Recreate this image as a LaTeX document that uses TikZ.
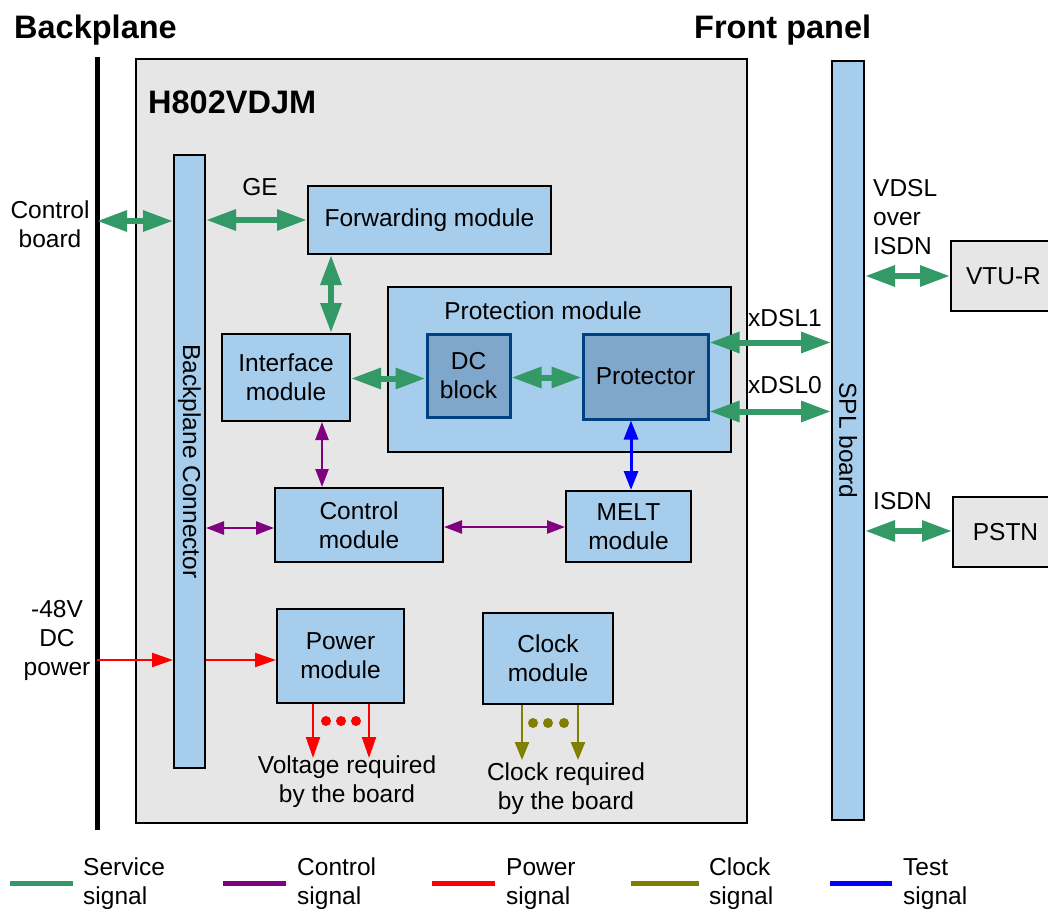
\documentclass[tikz,border=0pt]{standalone}
\usepackage{fontspec}
\setmainfont{Liberation Sans}
\usetikzlibrary{arrows.meta,calc}
\definecolor{sgreen}{HTML}{339966}
\definecolor{cpurple}{HTML}{800080}
\definecolor{colive}{HTML}{808000}
\definecolor{lblue}{HTML}{A6CDEC}
\definecolor{mblue}{HTML}{7FA6CB}
\definecolor{dblue}{HTML}{004080}
\definecolor{lgray}{HTML}{E6E6E6}
\newcommand\dfont{\fontsize{24.5}{29}\selectfont}
\newcommand\tfont{\fontsize{32.5}{36}\selectfont\bfseries}
\begin{document}
\begin{tikzpicture}[x=1pt,y=-1pt,
  box/.style={draw=black, line width=2pt, fill=lblue, align=center, inner sep=0pt, font=\dfont},
  dbox/.style={box, draw=dblue, line width=3pt, fill=mblue},
  gbox/.style={box, fill=lgray},
  lbl/.style={font=\dfont, align=center, inner sep=0pt},
  sarrow/.style={line width=6pt, draw=sgreen, {Triangle[length=30pt,width=20pt]}-{Triangle[length=30pt,width=20pt]}},
  carrow/.style={line width=2.5pt, draw=cpurple, {Triangle[length=18pt,width=13pt]}-{Triangle[length=18pt,width=13pt]}},
  tarrow/.style={line width=3pt, draw=blue, {Triangle[length=19pt,width=14pt]}-{Triangle[length=19pt,width=14pt]}},
  parrow/.style={line width=2pt, draw=red, -{Triangle[length=21pt,width=14pt]}},
  karrow/.style={line width=2.5pt, draw=colive, -{Triangle[length=18pt,width=14pt]}}
]
\useasboundingbox (0,0) rectangle (1048,909);

% titles
\node[font=\tfont, anchor=west, inner sep=0pt] (tback) at (14,30) {Backplane};
\node[font=\tfont, anchor=west, inner sep=0pt] (tfront) at (694,30) {Front panel};

% backplane line
\coordinate (bpt) at (97,57);
\coordinate (bpb) at (97,830);
\draw[line width=5pt] (bpt) -- (bpb);

% main board
\node[draw=black, line width=2pt, fill=lgray, minimum width=611pt, minimum height=764pt, inner sep=0pt] (main) at (441.5,441) {};
\node[font=\tfont, anchor=west, inner sep=0pt] (hname) at (148,102) {H802VDJM};

% backplane connector
\node[box, minimum width=31pt, minimum height=613pt] (bpc) at (189.5,461.5) {};
\node[lbl, rotate=-90] (bpclbl) at (bpc.center) {Backplane Connector};

% modules
\node[box, minimum width=243pt, minimum height=68pt] (fwd) at (429.5,220) {Forwarding module};
\node[box, minimum width=128pt, minimum height=87pt] (ifc) at (286,377.5) {Interface\\module};
\node[box, minimum width=343pt, minimum height=165pt] (prot) at (559.5,369.5) {};
\node[lbl] (protlbl) at (543,311) {Protection module};
\node[dbox, minimum width=83pt, minimum height=83pt] (dcb) at (468.5,375.5) {DC\\block};
\node[dbox, minimum width=125pt, minimum height=85pt] (ptr) at (645.5,376.5) {Protector};
\node[box, minimum width=168pt, minimum height=74pt] (ctl) at (359,525) {Control\\module};
\node[box, minimum width=125pt, minimum height=71pt] (melt) at (628.5,526.5) {MELT\\module};
\node[box, minimum width=127pt, minimum height=94pt] (pwr) at (340.5,656) {Power\\module};
\node[box, minimum width=130pt, minimum height=91pt] (clk) at (548,658.5) {Clock\\module};

% SPL board
\node[box, minimum width=32pt, minimum height=759pt] (spl) at (848,440.5) {};
\node[lbl, rotate=-90] (spllbl) at (spl.center) {SPL board};

% external boxes
\node[gbox, minimum width=105pt, minimum height=70pt] (vtur) at (1003.5,276) {VTU-R};
\node[gbox, minimum width=105pt, minimum height=70pt] (pstn) at (1005.5,532) {PSTN};

% left labels
\node[lbl] (cblbl) at (50,224) {Control\\board};
\node[lbl] (pwlbl) at (57,640) {-48V\\DC\\power};

% service signals
\coordinate (cbL) at (97,221);
\draw[sarrow] (cbL) -- (cbL -| bpc.west);
\draw[sarrow] (bpc.east |- fwd.west) -- (fwd.west);
\node[lbl] (ge) at (260,187) {GE};
\draw[sarrow] ([xshift=24pt]fwd.south west) -- ([xshift=24pt]fwd.south west |- ifc.north);
\draw[sarrow] ([yshift=-1pt]ifc.east) -- ([yshift=-1pt]ifc.east -| dcb.west);
\draw[sarrow] ([yshift=-2pt]dcb.east) -- ([yshift=-2pt]dcb.east -| ptr.west);
\draw[sarrow] ([yshift=-10pt]ptr.north east) -- ([yshift=-10pt]ptr.north east -| spl.west);
\draw[sarrow] ([yshift=9pt]ptr.south east) -- ([yshift=9pt]ptr.south east -| spl.west);
\node[lbl] (x1) at (785,318) {xDSL1};
\node[lbl] (x0) at (785,385) {xDSL0};
\draw[sarrow] (vtur.west -| spl.east) -- (vtur.west);
\draw[sarrow] ([yshift=1pt]pstn.west -| spl.east) -- ([yshift=1pt]pstn.west);
\node[lbl, anchor=west, align=left] (vdsl) at (873,217) {VDSL\\over\\ISDN};
\node[lbl, anchor=west, align=left] (isdn) at (873,501) {ISDN};

% control signals
\draw[carrow] ([xshift=36pt]ifc.south) -- ([xshift=36pt]ifc.south |- ctl.north);
\draw[carrow] ([yshift=-3pt]ctl.west -| bpc.east) -- ([yshift=-3pt]ctl.west);
\draw[carrow] ([yshift=-2pt]ctl.east) -- ([yshift=-2pt]ctl.east -| melt.west);

% test signal
\draw[tarrow] ([xshift=-14.5pt]ptr.south) -- ([xshift=-14.5pt]ptr.south |- melt.north);

% power signals
\coordinate (pw) at (97,660);
\draw[parrow] (pw) -- (pw -| bpc.west);
\draw[parrow] ([yshift=-4pt]pwr.west -| bpc.east) -- ([yshift=-4pt]pwr.west);
\coordinate (v1) at (313,758);
\coordinate (v2) at (369,758);
\draw[parrow] (pwr.south -| v1) -- (v1);
\draw[parrow] (pwr.south -| v2) -- (v2);
\fill[red] (326,721) circle (5pt) (341,721) circle (5pt) (356,721) circle (5pt);
\node[lbl] (vreq) at (347,782) {Voltage required\\by the board};

% clock signals
\coordinate (c1) at (522,760);
\coordinate (c2) at (578,760);
\draw[karrow] (clk.south -| c1) -- (c1);
\draw[karrow] (clk.south -| c2) -- (c2);
\fill[colive] (533,723) circle (5pt) (548,723) circle (5pt) (564,723) circle (5pt);
\node[lbl] (creq) at (566,789) {Clock required\\by the board};

% legend
\draw[line width=5pt, sgreen] (10,883) -- (73,883);
\node[lbl, anchor=west, align=left] (lg1) at (83,884) {Service\\signal};
\draw[line width=5pt, cpurple] (223,883) -- (286,883);
\node[lbl, anchor=west, align=left] (lg2) at (297,884) {Control\\signal};
\draw[line width=5pt, red] (432,883) -- (495,883);
\node[lbl, anchor=west, align=left] (lg3) at (506,884) {Power\\signal};
\draw[line width=5pt, colive] (631,883) -- (699,883);
\node[lbl, anchor=west, align=left] (lg4) at (709,884) {Clock\\signal};
\draw[line width=5pt, blue] (830,883) -- (892,883);
\node[lbl, anchor=west, align=left] (lg5) at (903,884) {Test\\signal};
\end{tikzpicture}
\end{document}
